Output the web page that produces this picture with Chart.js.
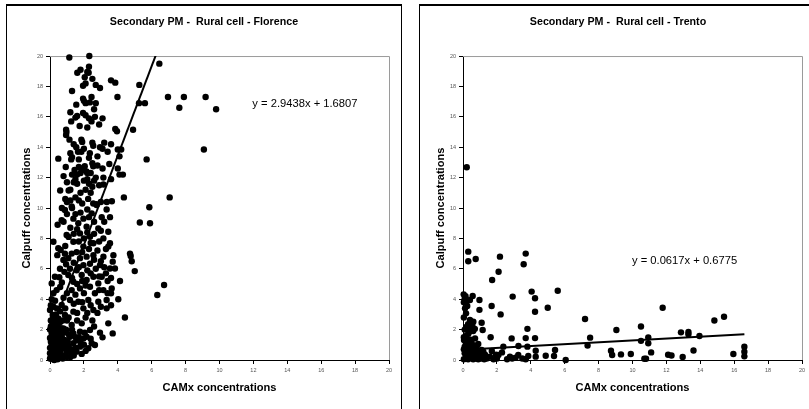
<!DOCTYPE html>
<html>
<head>
<meta charset="utf-8">
<script src="https://cdn.jsdelivr.net/npm/chart.js@4/dist/chart.umd.min.js"></script>
<style>
html, body { margin: 0; padding: 0; background: #fff; width: 809px; height: 409px; overflow: hidden; }
.panel { position: absolute; top: 4px; height: 430px; border: 1px solid #000; border-top-width: 2px; box-sizing: border-box; }
#p1 { left: 6px; width: 396px; }
#p2 { left: 419px; width: 420px; }
canvas { position: absolute; top: 5px; }
#florence { left: 7px; }
#trento { left: 420px; }
</style>
</head>
<body>
<div class="panel" id="p1"></div>
<div class="panel" id="p2"></div>
<canvas id="florence" width="394" height="404"></canvas>
<canvas id="trento" width="396" height="404"></canvas>
<script>
// axis ticks (both panels, both axes)
const tickMin = 0;
const tickMax = 20;
const tickStep = 2;

const xTitle = 'CAMx concentrations';
const yTitle = 'Calpuff concentrations';

// Florence: [CAMx, Calpuff]
const florencePoints = [
  [1.14,19.9],[2.32,20.0],[6.45,19.5],[1.8,19.1],[2.3,19.3],
  [1.61,18.9],[2.05,18.6],[2.2,18.95],[2.28,18.9],[1.95,18.05],[2.1,18.2],[2.7,18.1],[2.95,17.9],[3.6,18.4],[3.85,18.25],[5.27,18.1],[2.5,18.5],[1.3,17.7],
  [3.98,17.3],[1.95,17.2],[2.0,17.05],[2.1,16.9],[2.35,16.95],[2.7,16.9],[5.25,16.9],[5.6,16.9],[6.96,17.3],[7.9,17.3],[9.18,17.3],[7.63,16.6],[9.8,16.5],[2.45,17.3],[1.55,16.8],
  [2.6,16.5],[1.95,16.25],[2.1,16.1],[2.3,15.9],[1.5,15.95],[1.6,16.05],[1.25,15.7],[2.45,15.7],[3.1,15.9],[2.65,16.0],[1.2,16.3],
  [0.95,15.15],[0.97,15.0],[0.95,14.8],[3.85,15.2],[3.95,15.05],[4.9,15.15],[1.75,15.4],[2.2,15.3],[2.9,15.5],
  [1.15,14.5],[1.4,14.2],[1.85,14.5],[1.9,14.35],[2.5,14.3],[2.55,14.1],[2.95,14.0],[3.1,13.9],[3.2,14.3],[3.4,13.7],[4.0,13.85],[4.2,13.85],[4.1,13.4],[1.55,14.0],[3.6,14.2],
  [0.49,13.25],[1.2,13.6],[1.25,13.2],[1.3,13.35],[2.5,12.95],[2.55,12.75],[5.7,13.2],[9.08,13.85],[0.93,12.7],[1.65,13.7],[1.85,13.7],[2.0,13.9],[2.35,13.6],[1.7,13.2],[2.3,13.3],[2.8,13.4],
  [1.7,12.7],[1.85,12.6],[1.95,12.5],[2.05,12.75],[2.15,12.4],[1.8,12.3],[2.2,12.3],[3.1,12.6],[3.15,12.0],[4.0,12.6],[4.1,12.2],[4.3,12.2],[1.45,12.5],[1.3,12.2],[1.6,12.2],[2.4,12.3],[2.7,12.0],[2.8,12.8],[3.5,12.9],[0.8,12.1],
  [1.4,11.7],[1.5,11.9],[1.6,11.6],[2.0,11.8],[2.2,11.9],[2.3,11.6],[2.5,11.4],[0.6,11.15],[1.1,11.15],[1.2,11.2],[1.8,11.0],[2.1,11.2],[2.4,11.0],[2.9,11.5],[3.15,11.55],[3.6,11.9],[2.6,11.8],[1.0,11.7],
  [0.9,10.6],[1.0,10.4],[1.2,10.5],[1.5,10.7],[1.7,10.5],[1.9,10.3],[2.25,10.6],[2.55,10.3],[3.0,10.4],[3.35,10.4],[3.65,10.45],[4.36,10.7],[7.06,10.7],[5.86,10.05],[0.7,10.0],[1.3,10.0],[2.75,10.25],
  [0.88,9.87],[1.28,10.1],[0.69,9.2],[1.38,9.3],[1.67,9.0],[1.97,9.3],[2.46,9.65],[2.75,10.2],[3.05,9.4],[3.34,9.9],[3.54,9.4],[2.16,8.77],[2.85,8.66],
  [5.3,9.05],[5.9,9.0],[1.0,9.6],[1.8,9.7],[2.2,9.9],[2.6,9.1],[0.45,8.9],[0.8,9.1],[1.5,9.6],[2.3,9.4],[3.2,9.1],
  [1.77,8.33],[1.38,7.78],[0.98,8.22],[2.36,8.11],[3.15,8.0],[3.44,8.44],[3.44,7.46],[3.54,7.68],[2.56,7.68],[1.97,7.46],[0.2,7.78],[1.6,8.6],[2.0,8.0],[2.9,7.8],[1.2,8.7],
  [1.1,8.1],[1.4,8.3],[2.2,8.4],[2.6,8.3],[3.0,8.5],[1.7,7.8],[2.4,7.7],[3.3,7.3],[0.9,7.5],[1.9,7.1],
  [0.49,7.35],[0.63,7.24],[0.43,6.9],[0.88,6.99],[1.28,7.0],[1.57,7.1],[0.79,6.58],[1.08,6.7],[1.77,6.7],[2.16,6.8],[2.56,6.9],[3.15,6.8],[3.74,6.9],[3.7,6.47],[2.3,7.3],[2.8,7.2],
  [2.6,6.6],[3.0,6.5],[1.4,6.4],[0.95,6.3],[1.7,6.1],[2.2,5.9],[3.2,6.1],[0.85,5.8],
  [4.72,7.0],[4.76,6.85],[4.82,6.5],[5.0,5.85],
  [3.83,6.02],[3.54,6.02],[2.95,6.24],[2.36,6.33],[1.97,6.24],[1.57,5.9],[1.18,6.0],[0.59,6.0],[0.29,5.48],[0.55,5.44],[0.1,5.04],[0.39,4.6],[2.7,6.0],[3.3,5.7],
  [1.08,5.59],[1.38,5.15],[1.87,5.59],[2.16,5.26],[2.56,5.48],[2.85,5.04],[3.05,5.48],[2.36,4.82],[1.77,4.71],[1.28,4.6],[2.65,4.39],[3.15,4.6],[3.64,4.71],[3.6,4.39],[4.03,4.0],[4.13,5.2],
  [1.3,5.4],[1.9,5.2],[2.4,5.7],[2.9,5.5],[3.6,5.4],[0.6,4.8],[1.0,4.4],[1.5,4.3],[2.1,4.9],[2.9,4.6],[3.4,4.4],[0.2,4.4],[0.8,4.1],
  [6.33,4.28],[6.73,4.93],[0.7,5.1],[1.6,5.0],[2.0,4.4],[3.4,5.2],
  [3.34,3.95],[2.85,3.83],[2.26,3.95],[1.67,3.83],[1.18,3.95],[0.69,3.62],[0.2,3.5],[0.0,3.29],[0.16,2.96],[3.34,3.4],[2.56,3.29],[1.97,3.4],[1.38,3.18],[0.88,2.96],[0.49,2.74],
  [1.4,3.7],[1.9,3.8],[2.4,3.6],[3.0,3.5],[3.6,3.6],[0.35,3.0],[0.9,3.4],[1.6,3.1],[2.2,3.1],[2.8,3.1],[1.1,2.8],[1.6,2.6],[2.1,2.8],[2.5,2.6],
  [3.44,2.41],[4.42,2.8],[1.87,2.41],[1.28,2.3],[2.36,1.97],[2.95,1.8],[3.1,1.49],[3.7,1.75],[1.77,1.86],[1.97,1.42],[2.46,1.1],[2.65,0.99],[1.77,0.88],[1.57,0.55],[1.87,0.4],
  [1.38,1.1],[1.18,1.53],[0.88,1.32],[0.59,1.75],[0.69,0.88],[0.98,0.55],[0.49,1.1],[0.2,2.19],[0.1,1.75],[0.29,1.32],[0.1,0.77],[0.29,0.44],[0.49,0.22],[0.16,0.11],[0.0,0.44],
  [0.79,2.08],[0.39,2.52],[1.38,1.75],[2.16,1.53],[2.26,0.77],[1.28,0.44],[1.1,0.9],[1.6,1.3],[2.0,1.0],[0.8,1.8],[1.0,2.6],[0.6,3.2],
  [0.05,0.1],[0.1,0.3],[0.2,0.05],[0.3,0.2],[0.4,0.5],[0.15,0.6],[0.25,0.9],[0.05,1.2],[0.35,1.5],[0.1,1.9],[0.3,2.3],[0.05,2.6],[0.45,1.0],[0.5,0.3],[0.2,2.8],
  [0.15,1.6],[0.4,2.0],[0.0,0.8],[0.6,0.6],[0.7,1.5],[0.8,0.3],[0.6,2.5],[0.5,1.8],[0.25,0.0],[0.45,0.05],[0.35,0.7],[0.05,2.2],[0.3,1.1],[0.55,1.4],[0.2,0.35],
  [0.05,3.6],[0.1,4.0],[0.3,3.9],[0.15,2.4],[0.65,2.1],[0.9,1.0],[1.2,0.2],[1.5,0.8],[1.7,1.5],[2.1,0.6],[0.4,3.4],[0.75,2.6],[0.95,2.0],[1.1,1.7],[0.35,2.75],
  [0.0,0.1],[0.1,1.0],[0.2,1.4],[0.3,1.8],[0.4,0.1],[0.55,0.7],[0.65,1.2],[0.75,0.1],[0.85,0.75],[1.0,0.2],[1.05,1.2],[1.25,0.7],[1.4,0.3],[0.25,2.05],[0.0,2.0],
  [0.15,2.65],[0.45,2.3],[0.0,1.45],[0.7,1.9],[1.3,2.0],[1.5,1.5],[1.8,1.2],[2.05,1.8],[2.4,1.4],[2.6,2.2]
];

// Trento: [CAMx, Calpuff]
const trentoPoints = [
  [0.22,12.68],[0.31,7.13],[0.31,6.5],[0.75,6.65],[2.18,6.8],[2.1,5.81],[1.72,5.26],[3.58,6.3],[3.7,7.0],[5.59,4.56],
  [4.05,4.5],[4.25,4.06],[2.93,4.17],[5.0,3.44],[4.25,3.17],[1.69,3.55],[2.22,3.0],[3.8,2.05],[7.2,2.7],[9.05,1.97],
  [10.5,2.2],[11.78,3.44],[14.83,2.6],[15.4,2.85],[12.86,1.82],[13.3,1.85],[13.3,1.7],[13.95,1.58],[10.5,1.26],[10.93,1.49],
  [10.93,1.1],[7.5,1.47],[7.35,0.95],[11.1,0.5],[8.73,0.61],[8.8,0.33],[9.32,0.37],[9.9,0.39],[10.7,0.08],[10.8,0.08],
  [12.1,0.35],[12.3,0.3],[12.96,0.2],[13.6,0.63],[15.95,0.39],[16.6,0.87],[16.6,0.55],[16.6,0.24],[6.06,0.0],[5.43,0.66],
  [5.37,0.26],[4.88,0.28],[4.29,0.22],[4.29,0.61],[3.7,1.44],[4.25,1.44],[3.8,0.88],[3.27,0.92],[2.87,1.42],[2.38,0.88],
  [2.09,0.33],[2.77,0.22],[3.26,0.33],[3.85,0.26],[1.63,1.5],[1.59,0.22],[1.2,0.55],[1.0,0.22],
  [0.04,4.32],[0.1,4.05],[0.2,3.84],[0.41,3.95],[0.57,4.21],[0.97,3.95],[0.97,3.3],[1.1,2.45],[1.16,1.97],[0.71,1.42],
  [0.32,1.75],[0.22,2.19],[0.41,2.63],[0.61,2.52],[0.51,2.08],[0.18,3.07],[0.06,1.31],[0.1,0.88],[0.32,0.66],[0.51,0.88],
  [0.81,0.88],[1.1,0.66],[0.61,0.33],[0.2,0.22],
  [0.05,0.05],[0.15,0.1],[0.3,0.05],[0.45,0.15],[0.6,0.05],[0.75,0.1],[0.9,0.05],[1.05,0.1],[1.25,0.05],[1.4,0.1],
  [0.1,0.45],[0.25,0.5],[0.4,0.35],[0.55,0.55],[0.7,0.4],[0.85,0.6],[1.0,0.45],[1.3,0.35],[0.05,0.7],[0.2,0.85],
  [0.35,1.0],[0.5,1.15],[0.65,0.95],[0.9,1.05],[0.15,1.2],[0.05,1.5],[0.2,1.6],[0.4,1.35],[0.35,1.85],[0.6,1.9],
  [0.55,2.25],[0.45,2.55],[0.7,2.05],[0.3,2.35],[0.1,2.0],[0.05,2.8],[0.12,3.4],[0.25,3.55],[0.05,3.8],[0.15,4.2],
  [1.8,0.05],[2.0,0.1],[2.6,0.05],[2.9,0.1],[3.1,0.15],[3.5,0.1],[3.7,0.05],[2.3,0.5],[1.7,0.6],[1.95,0.35]
];

// trendlines as printed on the chart
const florenceFit = { slope: 2.9438, intercept: 1.6807 };
const trentoFit = { slope: 0.0617, intercept: 0.6775 };

const FONT = 'Arial, "Liberation Sans", sans-serif';

const plotFrame = {
  id: 'plotFrame',
  beforeDatasetsDraw(chart) {
    const { ctx, chartArea: a } = chart;
    ctx.save();
    ctx.strokeStyle = '#9a9a9a';
    ctx.lineWidth = 1;
    ctx.beginPath();
    ctx.moveTo(a.left, a.top + 0.5);
    ctx.lineTo(a.right + 0.5, a.top + 0.5);
    ctx.lineTo(a.right + 0.5, a.bottom);
    ctx.stroke();
    ctx.restore();
  },
  afterDatasetsDraw(chart, args, opts) {
    if (!opts.text) return;
    const { ctx, scales } = chart;
    ctx.save();
    ctx.font = '11.2px ' + FONT;
    ctx.fillStyle = '#000';
    ctx.textAlign = 'center';
    ctx.textBaseline = 'middle';
    ctx.fillText(opts.text, scales.x.getPixelForValue(opts.at[0]), scales.y.getPixelForValue(opts.at[1]));
    ctx.restore();
  }
};

function fitLabel(fit) {
  return 'y = ' + fit.slope.toFixed(4) + 'x + ' + fit.intercept.toFixed(4);
}

function makeChart(id, title, points, fit, labelAt, padL, padR) {
  const xs = points.map(p => p[0]);
  const x0 = Math.min(...xs);
  const x1 = Math.max(...xs);

  new Chart(document.getElementById(id), {
    type: 'scatter',
    data: {
      datasets: [
        {
          type: 'line',
          data: [
            { x: x0, y: fit.slope * x0 + fit.intercept },
            { x: x1, y: fit.slope * x1 + fit.intercept }
          ],
          borderColor: '#000',
          borderWidth: 2,
          pointRadius: 0,
          fill: false
        },
        {
          data: points.map(p => ({ x: p[0], y: p[1] })),
          backgroundColor: '#000',
          borderWidth: 0,
          pointRadius: 3.2,
          clip: false
        }
      ]
    },
    options: {
      responsive: false,
      animation: false,
      layout: { padding: { left: padL, right: padR, top: 0, bottom: 0 } },
      plugins: {
        legend: { display: false },
        tooltip: { enabled: false },
        title: {
          display: true,
          text: title,
          color: '#000',
          font: { family: FONT, size: 10.7, weight: 'bold' },
          padding: { top: 10.6, bottom: 27.6 }
        },
        plotFrame: { text: fitLabel(fit), at: labelAt }
      },
      scales: {
        x: {
          type: 'linear',
          min: tickMin,
          max: tickMax,
          ticks: { stepSize: tickStep, autoSkip: false, maxRotation: 0, padding: 3.5, color: '#555', font: { family: FONT, size: 5.5 } },
          grid: { drawOnChartArea: false, color: '#000', tickLength: 4 },
          border: { color: '#000', width: 1 },
          title: { display: true, text: xTitle, color: '#000', font: { family: FONT, size: 11.1, weight: 'bold' }, padding: { top: 0, bottom: 14 } },
          afterFit(s) { s.height = 49; }
        },
        y: {
          type: 'linear',
          min: tickMin,
          max: tickMax,
          ticks: { stepSize: tickStep, autoSkip: false, padding: 3, color: '#555', font: { family: FONT, size: 5.5 } },
          grid: { drawOnChartArea: false, color: '#000', tickLength: 4 },
          border: { color: '#000', width: 1 },
          title: { display: true, text: yTitle, color: '#000', font: { family: FONT, size: 11.1, weight: 'bold' }, padding: { top: Math.max(0, 13.4 - padL), bottom: 0 } },
          afterFit(s) { s.width = 43 - padL; }
        }
      }
    },
    plugins: [plotFrame]
  });
}

makeChart('florence', 'Secondary PM -  Rural cell - Florence', florencePoints, florenceFit, [15.04, 16.84], 12, 12);
makeChart('trento', 'Secondary PM -  Rural cell - Trento', trentoPoints, trentoFit, [13.07, 6.51], 14, 14);
</script>
</body>
</html>
